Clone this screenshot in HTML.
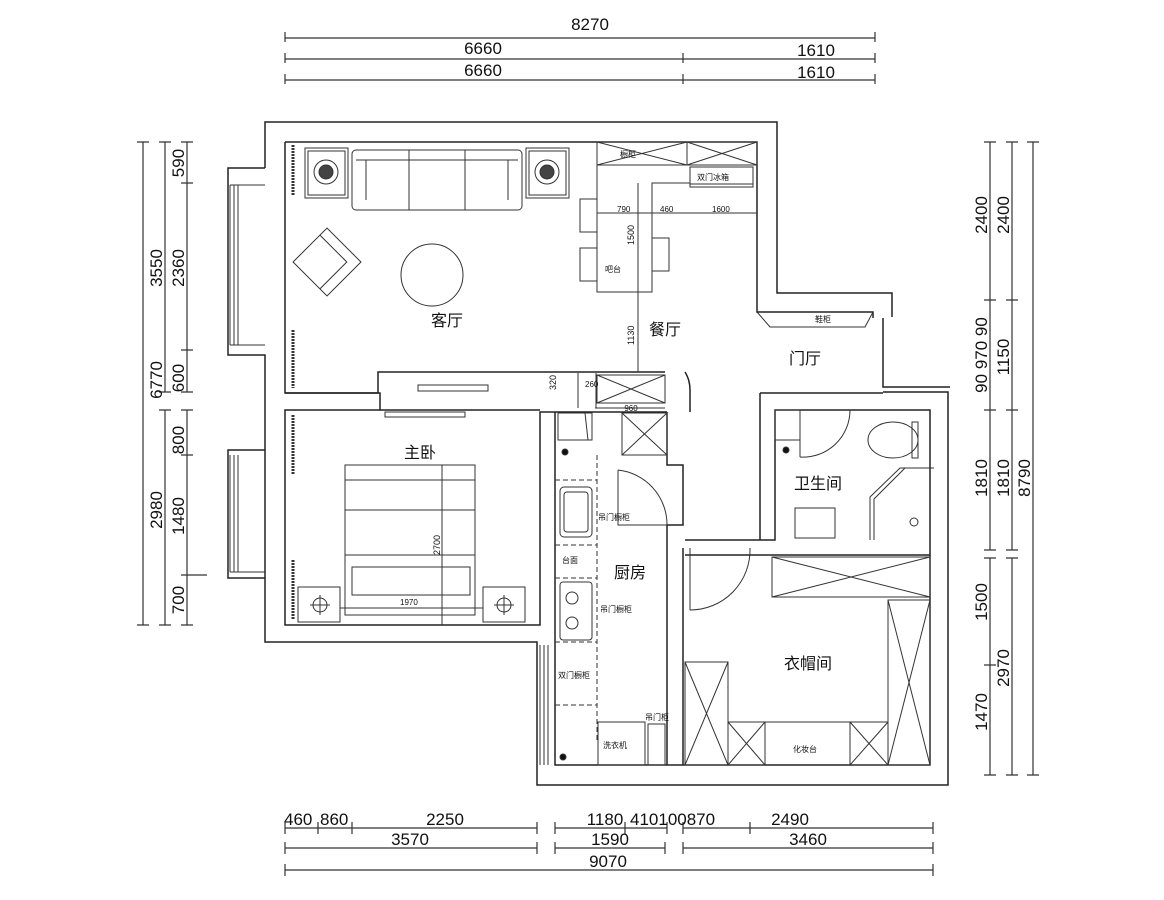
<!DOCTYPE html>
<html><head><meta charset="utf-8"><style>
html,body{margin:0;padding:0;background:#fff;}
svg{display:block;}
text{font-family:"Liberation Sans","Noto Sans CJK SC",sans-serif;fill:#111;}
</style></head><body>
<svg width="1164" height="900" viewBox="0 0 1164 900" xmlns="http://www.w3.org/2000/svg">
<g stroke="#333" stroke-width="1.2" fill="none">
<!-- top dims -->
<line x1="285" y1="38" x2="875" y2="38"/><line x1="285" y1="59" x2="875" y2="59"/><line x1="285" y1="80" x2="875" y2="80"/>
<path d="M285 32v10M875 32v10M285 53v10M683 53v10M875 53v10M285 74v10M683 74v10M875 74v10"/>
<!-- left dims -->
<line x1="143" y1="142" x2="143" y2="625"/><line x1="165" y1="142" x2="165" y2="392"/><line x1="165" y1="410" x2="165" y2="625"/>
<line x1="187" y1="142" x2="187" y2="392"/><line x1="187" y1="410" x2="187" y2="625"/>
<path d="M137 142h12M137 625h12M159 142h12M159 392h12M159 410h12M159 625h12M181 142h12M181 183h12M181 350h12M181 392h12M181 410h12M181 455h12M181 575h26M181 625h12"/>
<!-- right dims -->
<line x1="990" y1="142" x2="990" y2="550"/><line x1="990" y1="558" x2="990" y2="775"/>
<line x1="1012" y1="142" x2="1012" y2="550"/><line x1="1012" y1="558" x2="1012" y2="775"/>
<line x1="1033" y1="142" x2="1033" y2="775"/>
<path d="M984 142h12M984 300h12M984 410h12M984 550h12M984 558h12M984 665h12M984 775h12M1006 142h12M1006 300h12M1006 410h12M1006 550h12M1006 558h12M1006 775h12M1027 142h12M1027 775h12"/>
<!-- bottom dims -->
<line x1="285" y1="828" x2="537" y2="828"/><line x1="555" y1="828" x2="667" y2="828"/><line x1="683" y1="828" x2="933" y2="828"/>
<line x1="285" y1="848" x2="537" y2="848"/><line x1="555" y1="848" x2="665" y2="848"/><line x1="683" y1="848" x2="933" y2="848"/>
<line x1="285" y1="870" x2="933" y2="870"/>
<path d="M285 822v12M318 822v12M352 822v12M537 822v12M555 822v12M625 822v12M667 822v12M683 822v12M750 822v12M933 822v12M285 842v12M537 842v12M555 842v12M665 842v12M683 842v12M933 842v12M285 864v12M933 864v12"/>
</g>
<g font-size="17">
<text x="590" y="30" text-anchor="middle">8270</text>
<text x="483" y="54" text-anchor="middle">6660</text><text x="816" y="56" text-anchor="middle">1610</text>
<text x="483" y="76" text-anchor="middle">6660</text><text x="816" y="78" text-anchor="middle">1610</text>
<text x="284" y="825">460</text><text x="320" y="825">860</text><text x="445" y="825" text-anchor="middle">2250</text>
<text x="605" y="825" text-anchor="middle">1180</text><text x="630" y="825">410100870</text><text x="790" y="825" text-anchor="middle">2490</text>
<text x="410" y="845" text-anchor="middle">3570</text><text x="610" y="845" text-anchor="middle">1590</text><text x="808" y="845" text-anchor="middle">3460</text>
<text x="608" y="867" text-anchor="middle">9070</text>
<g transform="rotate(-90)">
<text x="-380" y="162" text-anchor="middle">6770</text>
<text x="-268" y="162" text-anchor="middle">3550</text><text x="-510" y="162" text-anchor="middle">2980</text>
<text x="-163" y="184" text-anchor="middle">590</text><text x="-268" y="184" text-anchor="middle">2360</text><text x="-378" y="184" text-anchor="middle">600</text>
<text x="-440" y="184" text-anchor="middle">800</text><text x="-516" y="184" text-anchor="middle">1480</text><text x="-600" y="184" text-anchor="middle">700</text>
<text x="-215" y="987" text-anchor="middle">2400</text><text x="-355" y="987" text-anchor="middle">90 970 90</text><text x="-478" y="987" text-anchor="middle">1810</text>
<text x="-602" y="987" text-anchor="middle">1500</text><text x="-712" y="987" text-anchor="middle">1470</text>
<text x="-215" y="1009" text-anchor="middle">2400</text><text x="-357" y="1009" text-anchor="middle">1150</text><text x="-478" y="1009" text-anchor="middle">1810</text><text x="-668" y="1009" text-anchor="middle">2970</text>
<text x="-478" y="1030" text-anchor="middle">8790</text>
</g>
</g>
<!-- walls -->
<g stroke="#222" stroke-width="1.5" fill="none">
<path d="M265 168V122H777V293H892V317"/>
<path d="M285 142H757V312H873V318"/>
<path d="M285 142V393H378V372H665"/>
<path d="M265 168H228V355H265V410"/>
<path d="M285 393H380V410H285V625H540V412H555"/>
<path d="M265 410V642H537V785H948V392H883"/>
<path d="M265 450H228V578H265"/>
<path d="M555 412V765H930V410H775V540H685"/>
<path d="M883 318V387H950"/>
<path d="M760 393H883M760 393V540"/>
<path d="M667 412V465H683V525H667V765"/>
<path d="M683 548V765"/>
<path d="M685 555H930"/>
<path d="M555 412H667"/>
<path d="M380 410H540"/>
<path d="M685 372Q690 380 690 390V412"/>
</g>
<!-- window frames -->
<g stroke="#333" stroke-width="1" fill="none">
<path d="M230 185V345M234 185V345M238 185V345M230 185H265M230 345H265"/>
<path d="M230 455V572M234 455V572M238 455V572M230 572H265"/>
<path d="M540 645V765M544 645V765M548 645V765"/>
</g>
<!-- living room furniture -->
<g stroke="#333" stroke-width="1" fill="none">
<rect x="305" y="148" width="43" height="50"/><rect x="308" y="151" width="37" height="44"/><circle cx="326" cy="172" r="12"/><circle cx="326" cy="172" r="7" fill="#444"/>
<rect x="526" y="148" width="43" height="50"/><rect x="529" y="151" width="37" height="44"/><circle cx="547" cy="172" r="12"/><circle cx="547" cy="172" r="7" fill="#444"/>
<rect x="352" y="150" width="170" height="60" rx="4"/><path d="M409 150V210M465 150V210M356 160H518M366 160V200M508 160V200"/>
<circle cx="432" cy="275" r="31"/>
<g transform="translate(327 262) rotate(45)"><rect x="-24" y="-24" width="48" height="48"/><path d="M-24 -14H14V24"/></g>
<path d="M293 145V195M293 330V388" stroke-dasharray="2 1" stroke-width="3"/>
<rect x="597" y="142" width="160" height="23"/><path d="M597 142L687 165M687 142L597 165M687 142L757 165M757 142L687 165M687 142V165"/>
<rect x="690" y="167" width="63" height="20"/><path d="M690 184H753"/>
<path d="M597 165V213H652V183H690M597 213V292H652V213M597 213H757"/>
<path d="M638 183V372"/>
<rect x="580" y="199" width="17" height="33"/><rect x="580" y="248" width="17" height="33"/><rect x="652" y="238" width="17" height="33"/>
<path d="M757 312L770 327H865L873 312"/>
<rect x="597" y="375" width="68" height="28"/><path d="M597 375L665 403M665 375L597 403"/>
<path d="M595 408H665" /><rect x="418" y="385" width="70" height="6"/>
<path d="M578 373V408M596 373V408"/>
</g>
<!-- bedroom -->
<g stroke="#333" stroke-width="1" fill="none">
<rect x="385" y="412" width="80" height="5"/>
<rect x="345" y="465" width="130" height="150"/><path d="M345 480H475M345 510H475M345 555H475M352 567H470V595H352Z M442 465V625"/>
<rect x="298" y="587" width="42" height="35"/><circle cx="320" cy="605" r="7"/><path d="M310 605H330M320 595V615"/>
<rect x="483" y="587" width="42" height="35"/><circle cx="504" cy="605" r="7"/><path d="M494 605H514M504 595V615"/>
<path d="M293 415V475M293 560V620" stroke-dasharray="2 1" stroke-width="3"/>
<path d="M340 608H483"/>
</g>
<!-- kitchen -->
<g stroke="#333" stroke-width="1" fill="none">
<path d="M597 455V740" stroke-dasharray="5 3"/>
<path d="M555 480H597M555 545H597M555 578H597M555 642H597M555 705H597" stroke-dasharray="5 3"/>
<rect x="558" y="413" width="34" height="27"/><path d="M585 413L588 440" /><circle cx="565" cy="452" r="3" fill="#111"/>
<rect x="622" y="413" width="45" height="42"/><path d="M622 413L667 455M667 413L622 455"/>
<rect x="560" y="487" width="32" height="50" rx="4"/><rect x="564" y="492" width="24" height="40" rx="3"/>
<rect x="560" y="582" width="32" height="58" rx="3"/><circle cx="572" cy="598" r="6"/><circle cx="572" cy="623" r="6"/>
<rect x="598" y="722" width="47" height="43"/><rect x="648" y="724" width="17" height="41"/>
<circle cx="563" cy="757" r="3" fill="#111"/>
<path d="M618 470V525H667M618 470A55 55 0 0 1 667 525"/>
<path d="M690 548V610M690 610A60 60 0 0 0 750 548"/>
</g>
<!-- bathroom -->
<g stroke="#333" stroke-width="1" fill="none">
<rect x="775" y="410" width="25" height="30"/><circle cx="786" cy="450" r="3" fill="#111"/>
<path d="M800 410V457"/><path d="M800 457A47 47 0 0 0 850 410"/>
<ellipse cx="893" cy="440" rx="25" ry="18"/><rect x="912" y="422" width="6" height="36"/>
<path d="M930 468H900L870 497V540M934 468H905L874 499V540"/>
<rect x="795" y="508" width="40" height="30"/>
<circle cx="914" cy="522" r="4"/>
</g>
<!-- wardrobe -->
<g stroke="#333" stroke-width="1" fill="none">
<rect x="772" y="557" width="158" height="40"/><path d="M772 557L930 597M930 557L772 597"/>
<rect x="888" y="600" width="42" height="165"/><path d="M888 600L930 765M930 600L888 765"/>
<rect x="685" y="662" width="43" height="103"/><path d="M685 662L728 765M728 662L685 765"/>
<path d="M728 722H888"/><rect x="728" y="722" width="37" height="43"/><path d="M728 722L765 765M765 722L728 765"/>
<rect x="850" y="722" width="38" height="43"/><path d="M850 722L888 765M888 722L850 765"/>
</g>
<g font-size="16">
<text x="447" y="326" text-anchor="middle">客厅</text>
<text x="665" y="335" text-anchor="middle">餐厅</text>
<text x="805" y="364" text-anchor="middle">门厅</text>
<text x="420" y="458" text-anchor="middle">主卧</text>
<text x="630" y="578" text-anchor="middle">厨房</text>
<text x="818" y="489" text-anchor="middle">卫生间</text>
<text x="808" y="669" text-anchor="middle">衣帽间</text>
</g>
<g font-size="8">
<text x="620" y="157">橱柜</text><text x="697" y="180">双门冰箱</text>
<text x="617" y="212">790</text><text x="660" y="212">460</text><text x="712" y="212">1600</text>
<text x="605" y="272">吧台</text><text x="815" y="322">鞋柜</text>
<text x="631" y="411" text-anchor="middle">960</text>
<text x="400" y="605">1970</text>
<text x="598" y="520">吊门橱柜</text><text x="562" y="563">台面</text><text x="600" y="612">吊门橱柜</text><text x="558" y="678">双门橱柜</text>
<text x="603" y="748">洗衣机</text><text x="645" y="720">吊门柜</text><text x="793" y="752">化妆台</text>
<text x="585" y="387">260</text>
</g>
<g font-size="9" transform="rotate(-90)">
<text x="-245" y="634">1500</text><text x="-345" y="634">1130</text><text x="-390" y="556">320</text><text x="-555" y="440">2700</text>
</g>
</svg>
</body></html>
